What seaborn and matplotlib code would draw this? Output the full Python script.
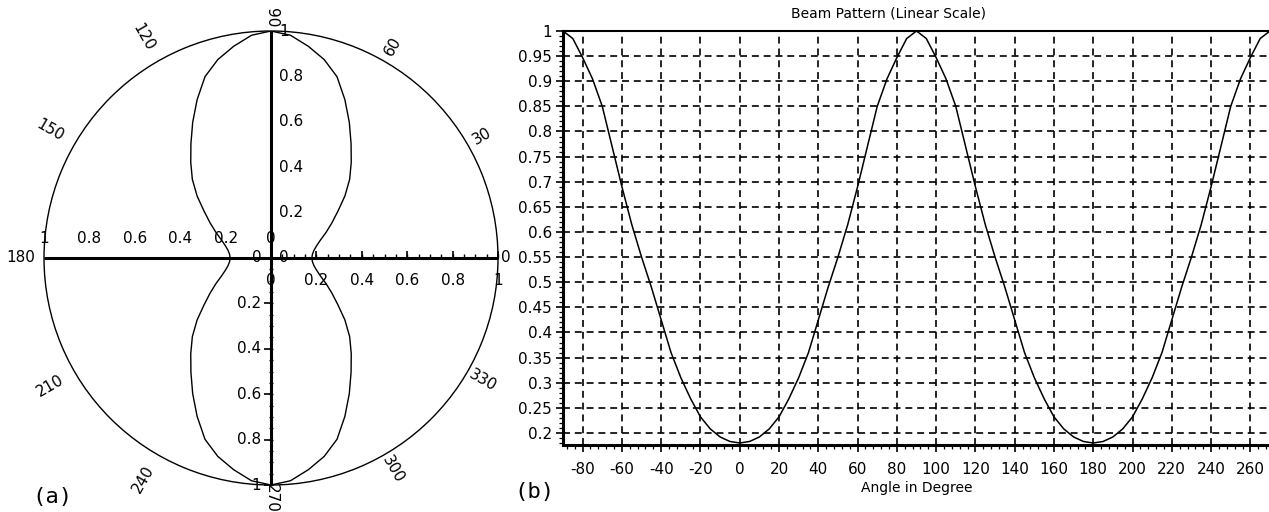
import numpy as np
import matplotlib
matplotlib.use("Agg")
import matplotlib.pyplot as plt
from matplotlib.ticker import MultipleLocator
from matplotlib import markers
import seaborn as sns

# ---------------- data ----------------
angles_deg = list(range(-90, 275, 5))
gain = [
    1.0, 0.985, 0.947, 0.905, 0.85, 0.77, 0.69, 0.615, 0.55, 0.49,
    0.425, 0.36, 0.31, 0.268, 0.232, 0.208, 0.192, 0.183, 0.18,
    0.183, 0.192, 0.208, 0.232, 0.268, 0.31, 0.36, 0.425, 0.49, 0.55,
    0.615, 0.69, 0.77, 0.85, 0.905, 0.947, 0.985, 1.0,
    0.985, 0.947, 0.905, 0.85, 0.77, 0.69, 0.615, 0.55, 0.49, 0.425,
    0.36, 0.31, 0.268, 0.232, 0.208, 0.192, 0.183, 0.18,
    0.183, 0.192, 0.208, 0.232, 0.268, 0.31, 0.36, 0.425, 0.49, 0.55,
    0.615, 0.69, 0.77, 0.85, 0.905, 0.947, 0.985, 1.0,
]
x_ticks = [-80, -60, -40, -20, 0, 20, 40, 60, 80, 100, 120, 140, 160, 180, 200, 220, 240, 260]
y_ticks = [0.2, 0.25, 0.3, 0.35, 0.4, 0.45, 0.5, 0.55, 0.6, 0.65, 0.7, 0.75, 0.8, 0.85, 0.9, 0.95, 1.0]
y_tick_labels = ["0.2", "0.25", "0.3", "0.35", "0.4", "0.45", "0.5", "0.55", "0.6", "0.65",
                 "0.7", "0.75", "0.8", "0.85", "0.9", "0.95", "1"]
polar_angle_labels = [0, 30, 60, 90, 120, 150, 180, 210, 240, 270, 300, 330]
radial_ticks = [0, 0.2, 0.4, 0.6, 0.8, 1.0]
radial_labels = ["0", "0.2", "0.4", "0.6", "0.8", "1"]
title_b = "Beam Pattern (Linear Scale)"
xlabel_b = "Angle in Degree"

# ---------------- style ----------------
sns.set_theme(style="white")
plt.rcParams["font.family"] = ["DejaVu Sans"]
plt.rcParams["lines.scale_dashes"] = False
plt.rcParams["axes.unicode_minus"] = False
plt.rcParams["text.color"] = "black"

W, H = 1269, 512
fig = plt.figure(figsize=(W / 100, H / 100), dpi=100)
fig.patch.set_facecolor("white")

# ---------------- (b) linear beam pattern ----------------
ax = fig.add_axes([563 / W, (H - 445) / H, 707 / W, 414 / H])
sns.lineplot(x=angles_deg, y=gain, ax=ax, color="black", linewidth=1.1, estimator=None)
ax.set_xlim(-90, 270)
ax.set_ylim(0.176, 1.0)
ax.set_xticks(x_ticks)
ax.set_yticks(y_ticks)
ax.set_yticklabels(y_tick_labels)
ax.xaxis.set_minor_locator(MultipleLocator(4))
ax.yaxis.set_minor_locator(MultipleLocator(0.01))
ax.tick_params(axis="both", which="major", direction="out", length=5, width=1.2,
               color="black", labelsize=11, labelcolor="black", bottom=True, left=True)
ax.tick_params(axis="both", which="minor", direction="out", length=3, width=0.9,
               color="black", bottom=True, left=True)
ax.tick_params(axis="x", which="major", pad=7)
ax.tick_params(axis="y", which="major", pad=3)
ax.grid(True, which="major", color="black", linestyle=(0, (5, 3.5)), linewidth=1.2)
ax.set_axisbelow(True)
for s in ("left", "bottom"):
    ax.spines[s].set_linewidth(2.2)
    ax.spines[s].set_color("black")
ax.spines["top"].set_linewidth(1.5)
ax.spines["top"].set_color("black")
ax.spines["right"].set_visible(False)
ax.set_xlabel(xlabel_b, fontsize=10, labelpad=3, color="black")
ax.set_ylabel("")
ax.set_title(title_b, fontsize=10, x=0.46, pad=10, color="black")

# ---------------- (a) polar beam pattern ----------------
pax = fig.add_axes([44 / W, 27 / H, 454 / W, 454 / H], projection="polar")
pax.set_facecolor("none")
theta = np.deg2rad(angles_deg)
sns.lineplot(x=theta, y=gain, sort=False, estimator=None, ax=pax, color="black", linewidth=1.0)
pax.set_ylim(0, 1)
pax.set_xticks([])
pax.set_yticks([])
pax.grid(False)
pax.set_xlabel("")
pax.set_ylabel("")
pax.spines["polar"].set_linewidth(1.0)
pax.spines["polar"].set_color("black")

# cross axes
for th in (0, 90, 180, 270):
    pax.plot([np.deg2rad(th)] * 2, [0, 1], color="black", lw=2.2,
             solid_capstyle="butt", clip_on=False)

minor_r = np.arange(0.05, 1.0001, 0.05)
pax.plot([0.0] * len(minor_r), minor_r, linestyle="none", marker=markers.TICKUP,
         ms=3, mew=1, color="black", clip_on=False)
pax.plot([0.0] * len(radial_ticks), radial_ticks, linestyle="none", marker=markers.TICKUP,
         ms=5, mew=1.2, color="black", clip_on=False)
pax.plot([np.deg2rad(270)] * len(radial_ticks), radial_ticks, linestyle="none",
         marker=markers.TICKLEFT, ms=5, mew=1.2, color="black", clip_on=False)
pax.plot([np.deg2rad(270)] * len(minor_r), minor_r, linestyle="none",
         marker="_", ms=3, mew=0.9, color="black", clip_on=False)

# angle labels
for a in polar_angle_labels:
    rot = ((a + 90) % 180) - 90
    ha = "center"
    if a == 0:
        r = 1.035
    elif a == 180:
        r, ha, rot = 1.04, "right", 0
    elif a in (90, 270):
        r = 1.06
    elif np.cos(np.deg2rad(a)) > 0:
        r = 1.075
    else:
        r = 1.125
    pax.text(np.deg2rad(a), r, str(a), rotation=rot, rotation_mode="anchor",
             ha=ha, va="center", fontsize=11, color="black")

# radial labels along the four half-axes
for v, lab in zip(radial_ticks, radial_labels):
    pax.annotate(lab, xy=(np.deg2rad(90), v), xytext=(6, 0), textcoords="offset points",
                 ha="left", va="center", fontsize=11, annotation_clip=False)
    pax.annotate(lab, xy=(np.deg2rad(180), v), xytext=(0, 14), textcoords="offset points",
                 ha="center", va="center", fontsize=11, annotation_clip=False)
    pax.annotate(lab, xy=(0.0, v), xytext=(0, -16.5), textcoords="offset points",
                 ha="center", va="center", fontsize=11, annotation_clip=False)
    pax.annotate(lab, xy=(np.deg2rad(270), v), xytext=(-7, 0), textcoords="offset points",
                 ha="right", va="center", fontsize=11, annotation_clip=False)

# panel letters
fig.text(52 / W, 1 - 497 / H, "(a)", ha="center", va="center", fontsize=16,
         family="DejaVu Sans Mono", color="black")
fig.text(534 / W, 1 - 492 / H, "(b)", ha="center", va="center", fontsize=16,
         family="DejaVu Sans Mono", color="black")

fig.savefig("out.png", dpi=100, facecolor="white")
